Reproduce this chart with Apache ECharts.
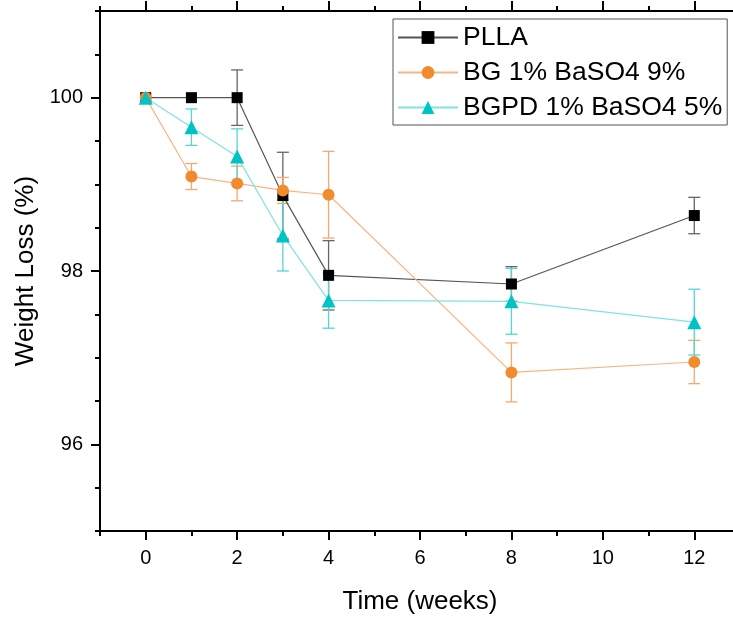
<!DOCTYPE html>
<html>
<head>
<meta charset="utf-8">
<script src="https://cdn.jsdelivr.net/npm/echarts@6/dist/echarts.min.js"></script>
<style>
  html, body { margin: 0; padding: 0; background: #fff; }
  #chart { width: 733px; height: 617px; }
</style>
</head>
<body>
<div id="chart"></div>
<script>
// weeks
const weeks = [0, 1, 2, 3, 4, 8, 12];

// weight loss (%) and error (sd) per material
const pllaMean = [100, 100, 100, 98.87, 97.95, 97.85, 98.64];
const pllaErr = [0, 0, 0.32, 0.5, 0.4, 0.2, 0.21];
const bgMean = [100, 99.09, 99.01, 98.93, 98.88, 96.83, 96.95];
const bgErr = [0, 0.15, 0.2, 0.15, 0.5, 0.34, 0.25];
const bgpdMean = [100, 99.66, 99.32, 98.41, 97.66, 97.65, 97.41];
const bgpdErr = [0, 0.21, 0.32, 0.41, 0.32, 0.38, 0.38];

const xMajor = [0, 2, 4, 6, 8, 10, 12];
const yMajor = [96, 98, 100];

const font = "'Liberation Sans', Arial, sans-serif";

function points(mean) {
  return weeks.map((w, i) => [w, mean[i]]);
}
function errRows(mean, err) {
  return weeks.map((w, i) => [w, mean[i], err[i]]);
}

function errorBars(name, mean, err, color) {
  return {
    type: "custom",
    name: name + " err",
    xAxisIndex: 0,
    yAxisIndex: 0,
    z: 1,
    silent: true,
    data: errRows(mean, err),
    renderItem(params, api) {
      const e = api.value(2);
      if (!e) return null;
      const x = api.value(0), y = api.value(1);
      const top = api.coord([x, y + e]);
      const bot = api.coord([x, y - e]);
      const hw = 6;
      const style = { stroke: color, lineWidth: 1.3 };
      return {
        type: "group",
        children: [
          { type: "line", shape: { x1: top[0], y1: top[1], x2: bot[0], y2: bot[1] }, style },
          { type: "line", shape: { x1: top[0] - hw, y1: top[1], x2: top[0] + hw, y2: top[1] }, style },
          { type: "line", shape: { x1: bot[0] - hw, y1: bot[1], x2: bot[0] + hw, y2: bot[1] }, style }
        ]
      };
    }
  };
}

function lineSeries(name, mean, symbol, size, markColor, lineColor) {
  return {
    type: "line",
    name: name,
    xAxisIndex: 0,
    yAxisIndex: 0,
    z: 3,
    data: points(mean),
    symbol: symbol,
    symbolSize: size,
    showAllSymbol: true,
    itemStyle: { color: markColor, borderWidth: 0 },
    lineStyle: { color: lineColor, width: 1.2 },
    emphasis: { disabled: true }
  };
}

const tickStyle = { color: "#000", width: 2 };

// two axes per side: short ticks every step, long ticks on the labelled values
function xAxisDef(position, tickLen, custom, showLine) {
  return {
    type: "value",
    position: position,
    min: -1,
    max: 13,
    interval: 1,
    splitLine: { show: false },
    axisLine: { show: showLine, onZero: false, lineStyle: { color: "#000", width: 2 } },
    axisTick: { show: true, length: tickLen, customValues: custom, lineStyle: tickStyle },
    axisLabel: { show: false }
  };
}

function yAxisDef(tickLen, custom, showLine) {
  return {
    type: "value",
    position: "left",
    min: 95,
    max: 101,
    interval: 0.5,
    splitLine: { show: false },
    axisLine: { show: showLine, onZero: false, lineStyle: { color: "#000", width: 2 } },
    axisTick: { show: true, length: tickLen, customValues: custom, lineStyle: tickStyle },
    axisLabel: { show: false }
  };
}

const xBottomMajor = xAxisDef("bottom", 9, xMajor, false);
xBottomMajor.axisLabel = { show: true, customValues: xMajor, fontSize: 20, color: "#000", margin: 17, fontFamily: font };
xBottomMajor.name = "Time (weeks)";
xBottomMajor.nameLocation = "middle";
xBottomMajor.nameGap = 58;
xBottomMajor.nameTextStyle = { fontSize: 26, color: "#000", fontFamily: font };

const yLeftMajor = yAxisDef(9, yMajor, false);
yLeftMajor.axisLabel = { show: true, customValues: yMajor, fontSize: 20, color: "#000", margin: 17, fontFamily: font };
yLeftMajor.name = "Weight Loss (%)";
yLeftMajor.nameLocation = "middle";
yLeftMajor.nameRotate = 90;
yLeftMajor.nameGap = 54;
yLeftMajor.nameTextStyle = { fontSize: 26, color: "#000", fontFamily: font };

const chart = echarts.init(document.getElementById("chart"), null, { renderer: "canvas" });

chart.setOption({
  animation: false,
  backgroundColor: "#fff",
  textStyle: { fontFamily: font },
  grid: { left: 100, top: 11, bottom: 86, right: -7, containLabel: false, outerBoundsMode: "none" },
  legend: {
    data: ["PLLA", "BG 1% BaSO4 9%", "BGPD 1% BaSO4 5%"],
    orient: "vertical",
    left: 393,
    top: 19,
    padding: [5, 5, 4, 4],
    itemGap: 8,
    itemWidth: 60,
    itemHeight: 16,
    borderColor: "#555",
    borderWidth: 1,
    selectedMode: false,
    textStyle: { fontSize: 26.5, color: "#000", fontFamily: font }
  },
  xAxis: [
    xAxisDef("bottom", 5, undefined, true),
    xBottomMajor,
    xAxisDef("top", 5, undefined, true),
    xAxisDef("top", 10, xMajor, false)
  ],
  yAxis: [
    yAxisDef(5, undefined, true),
    yLeftMajor
  ],
  series: [
    errorBars("PLLA", pllaMean, pllaErr, "#666"),
    errorBars("BG 1% BaSO4 9%", bgMean, bgErr, "#f5a872"),
    errorBars("BGPD 1% BaSO4 5%", bgpdMean, bgpdErr, "#55d5d5"),
    lineSeries("PLLA", pllaMean, "rect", 11, "#000", "#555"),
    lineSeries("BG 1% BaSO4 9%", bgMean, "circle", 12, "#f28a2e", "#f7b585"),
    lineSeries("BGPD 1% BaSO4 5%", bgpdMean, "triangle", 14, "#00c4c4", "#7ee3e3")
  ]
});
</script>
</body>
</html>
